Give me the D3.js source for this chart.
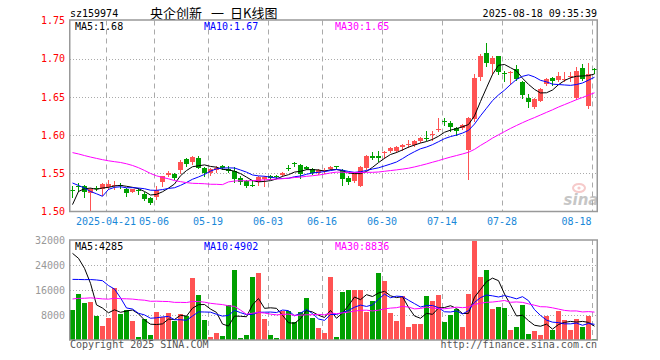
<!DOCTYPE html>
<html><head><meta charset="utf-8">
<script src="https://cdn.jsdelivr.net/npm/d3@7/dist/d3.min.js"></script>
<style>body{margin:0;background:#fff}svg{display:block}</style>
</head><body><svg id="c" width="660" height="360"></svg>
<script>
const dates = ["04-11","04-14","04-15","04-16","04-17","04-18","04-21","04-22","04-23","04-24","04-25","04-28","04-29","04-30",
"05-06","05-07","05-08","05-09","05-12","05-13","05-14","05-15","05-16","05-19","05-20","05-21","05-22","05-23","05-26","05-27","05-28","05-29","05-30",
"06-03","06-04","06-05","06-06","06-09","06-10","06-11","06-12","06-13","06-16","06-17","06-18","06-19","06-20","06-23","06-24","06-25","06-26","06-27","06-30",
"07-01","07-02","07-03","07-04","07-07","07-08","07-09","07-10","07-11","07-14","07-15","07-16","07-17","07-18","07-21","07-22","07-23","07-24","07-25","07-28","07-29","07-30","07-31",
"08-01","08-04","08-05","08-06","08-07","08-08","08-11","08-12","08-13","08-14","08-15","08-18"];
const openP = [1.528,1.534,1.534,1.524,1.531,1.530,1.532,1.533,1.535,1.529,1.526,1.528,1.523,1.5175,1.519,1.538,1.548,1.549,1.554,1.569,1.565,1.570,1.557,1.551,1.554,
1.560,1.556,1.553,1.544,1.540,1.535,1.538,1.542,1.547,1.546,1.548,1.557,1.563,1.561,1.558,1.556,1.550,1.553,1.556,1.560,1.554,1.544,1.540,1.534,1.557,1.572,1.572,1.577,1.579,1.579,1.584,1.587,1.587,1.592,1.596,1.600,1.607,
1.619,1.616,1.609,1.609,1.581,1.621,1.676,1.708,1.693,1.704,1.681,1.682,1.686,1.670,1.649,1.637,1.645,1.667,1.675,1.672,1.673,1.677,1.649,1.688,1.638,1.686];
const closeP = [1.527,1.532,1.526,1.530,1.530,1.536,1.536,1.535,1.534,1.524,1.529,1.527,1.517,1.511,1.528,1.546,1.551,1.544,1.565,1.562,1.571,1.557,1.550,1.555,1.557,
1.557,1.553,1.542,1.539,1.534,1.534,1.545,1.545,1.544,1.545,1.551,1.556,1.562,1.549,1.556,1.551,1.554,1.554,1.558,1.558,1.543,1.539,1.550,1.558,1.572,1.570,1.570,1.578,1.583,1.585,1.587,1.588,1.592,1.596,1.595,1.601,1.6085,
1.618,1.610,1.605,1.613,1.623,1.675,1.704,1.694,1.701,1.683,1.680,1.683,1.673,1.653,1.643,1.647,1.660,1.674,1.671,1.678,1.674,1.678,1.684,1.673,1.680,1.685];
const highP = [1.534,1.537,1.535,1.531,1.533,1.537,1.541,1.540,1.537,1.531,1.530,1.531,1.526,1.519,1.534,1.547,1.553,1.551,1.567,1.570,1.572,1.572,1.558,1.557,1.559,
1.561,1.559,1.558,1.546,1.541,1.541,1.546,1.547,1.548,1.548,1.552,1.561,1.565,1.562,1.559,1.557,1.556,1.557,1.559,1.560,1.555,1.546,1.551,1.559,1.574,1.578,1.579,1.579,1.585,1.586,1.588,1.594,1.594,1.598,1.605,1.605,1.6225,
1.622,1.618,1.610,1.615,1.624,1.680,1.706,1.720,1.703,1.704,1.684,1.684,1.692,1.671,1.654,1.648,1.661,1.675,1.676,1.682,1.682,1.682,1.689,1.693,1.695,1.688];
const lowP = [1.519,1.527,1.519,1.500,1.528,1.522,1.530,1.530,1.531,1.520,1.525,1.523,1.515,1.510,1.517,1.534,1.547,1.543,1.551,1.560,1.562,1.557,1.546,1.548,1.552,
1.556,1.552,1.538,1.536,1.532,1.534,1.535,1.533,1.542,1.544,1.547,1.554,1.559,1.544,1.555,1.549,1.549,1.551,1.555,1.557,1.535,1.536,1.538,1.533,1.555,1.569,1.566,1.570,1.578,1.578,1.580,1.585,1.586,1.591,1.593,1.594,1.606,
1.613,1.606,1.600,1.608,1.542,1.619,1.672,1.690,1.680,1.680,1.671,1.667,1.672,1.648,1.637,1.635,1.644,1.665,1.666,1.671,1.671,1.671,1.647,1.672,1.636,1.6807];
const volume = [9600,14720,11950,12270,7680,4480,7140,16750,8320,9600,6180,1070,6830,1600,9070,7250,8750,6180,8320,7680,19950,14400,6400,1070,2350,
1280,11200,22400,740,1600,20270,21330,6720,1600,740,9280,9280,5870,9070,13550,7140,3950,2350,20270,1070,15470,16000,16000,16000,9070,12480,21550,18880,8750,6180,14080,4270,5120,5120,14080,12480,14400,
5870,8000,9810,4270,14720,31680,20270,22400,9920,10670,10350,3200,4270,11200,1920,2990,1600,7680,3200,9280,6400,3200,6610,4270,7680,320];
// closes / volumes before the visible window (estimated from the moving-average lines)
const priorClose = [1.585,1.590,1.588,1.583,1.586,1.580,1.570,1.565,1.575,1.595,1.615,1.625,1.630,1.620,1.610,1.605,1.612,1.608,1.600,1.598,
1.564,1.560,1.575,1.560,1.569,1.446,1.508,1.526,1.538];
const priorVolume = [9000,11000,8500,12000,10000,9500,8000,13000,10500,9000,7500,11000,12000,8000,9500,10000,14000,8500,9000,10000,
15000,12500,12000,9000,6850,22670,27950,36300,42130];
const priceTicks = [1.50,1.55,1.60,1.65,1.70,1.75];
const volTicks = [8000,16000,24000,32000];
const dateTicks = ["04-21","05-06","05-19","06-03","06-16","06-30","07-14","07-28","08-18"];
const dateTickLabels = ["2025-04-21","05-06","05-19","06-03","06-16","06-30","07-14","07-28","08-18"];
const maPeriods = [5,10,30];
const priceLegend = ["1.68","1.67","1.65"];
const volLegend = ["4285","4902","8836"];
const titleParts = ["央企创新", "一", "日K线图"];
const codeText = "sz159974";
const timeText = "2025-08-18 09:35:39";

const svg = d3.select("#c");
const MONO = "'DejaVu Sans Mono', 'Liberation Mono', monospace";
const RED = "#ff5353", GREEN = "#00a000";
const maColors = ["#000000","#0000ff","#ff00ff"];
const L = 70, R = 597, PT = 20.5, PB = 211.5, VT = 240, VB = 340;
const n = dates.length;
const x = d3.scaleBand().domain(d3.range(n)).range([L - 1, R]);
const yP = d3.scaleLinear().domain([1.50, 1.75]).range([PB, PT]);
const yV = d3.scaleLinear().domain([0, 32000]).range([VB, VT]);
const cx = i => x(i) + 3.5;
const gx = i => x(i) + 1.5;

function ma(prior, vals, p) {
  const all = prior.concat(vals), off = prior.length;
  return vals.map((_, i) => d3.mean(all.slice(off + i - p + 1, off + i + 1)));
}

const defs = svg.append("defs");
defs.append("clipPath").attr("id","cp").append("rect").attr("x",L).attr("y",PT).attr("width",R-L).attr("height",PB-PT);
defs.append("clipPath").attr("id","cv").append("rect").attr("x",L).attr("y",VT).attr("width",R-L).attr("height",VB-VT);

// header
svg.append("text").attr("x", L).attr("y", 16.5).attr("font-family", MONO).attr("font-size", 10).attr("fill","#000").text(codeText);
const tt = svg.append("text").attr("y", 17.5).attr("font-family","'Noto Sans CJK SC', sans-serif").attr("font-size", 13).attr("fill","#000");
const titleX = [150, 211, 230];
titleParts.forEach((s, k) => tt.append("tspan").attr("x", titleX[k]).text(s));
svg.append("text").attr("x", R).attr("y", 16.5).attr("text-anchor","end").attr("font-family", MONO).attr("font-size", 10).attr("fill","#000").text(timeText);

// grids
const tickIdx = dateTicks.map(d => dates.indexOf(d));
function grids(top, bottom, yScale, ticks) {
  const g = svg.append("g");
  g.selectAll("line.h").data(ticks.filter(t => yScale(t) > top + 2 && yScale(t) < bottom - 2)).enter().append("line")
    .attr("x1", L).attr("x2", R).attr("y1", t => Math.round(yScale(t)) + 0.5).attr("y2", t => Math.round(yScale(t)) + 0.5)
    .attr("stroke","#aaa").attr("stroke-dasharray","1,2");
  g.selectAll("line.v").data(tickIdx).enter().append("line")
    .attr("x1", gx).attr("x2", gx).attr("y1", top).attr("y2", bottom)
    .attr("stroke","#aaa").attr("stroke-dasharray","5,4");
}
grids(PT, PB, yP, priceTicks);
grids(VT, VB, yV, volTicks);

// watermark
const wm = svg.append("g").attr("opacity", 0.55);
wm.append("ellipse").attr("cx", 579).attr("cy", 188).attr("rx", 6).attr("ry", 4).attr("fill","none").attr("stroke","#f0a0a0").attr("stroke-width",2);
wm.append("circle").attr("cx", 579).attr("cy", 188).attr("r", 1.6).attr("fill","#f0a0a0");
wm.append("text").attr("x", 581).attr("y", 205).attr("text-anchor","middle").attr("font-family","'DejaVu Sans', sans-serif")
  .attr("font-style","italic").attr("font-weight","bold").attr("font-size", 15).attr("fill","#999").text("sina");

// candles
const up = i => closeP[i] >= openP[i];
const cg = svg.append("g").attr("clip-path","url(#cp)");
const idx = d3.range(n);
cg.selectAll("line.w").data(idx).enter().append("line")
  .attr("x1", cx).attr("x2", cx)
  .attr("y1", i => Math.round(yP(highP[i]))).attr("y2", i => Math.round(yP(lowP[i])) + 1)
  .attr("stroke", i => up(i) ? RED : GREEN);
cg.selectAll("rect").data(idx).enter().append("rect")
  .attr("x", i => x(i) + 1).attr("width", 5)
  .attr("y", i => Math.round(yP(Math.max(openP[i], closeP[i]))))
  .attr("height", i => Math.max(1, Math.round(yP(Math.min(openP[i], closeP[i]))) - Math.round(yP(Math.max(openP[i], closeP[i])))))
  .attr("fill", i => up(i) ? RED : GREEN);

maPeriods.forEach((p, k) => {
  const m = ma(priorClose, closeP, p);
  cg.append("path").datum(idx).attr("fill","none").attr("stroke", maColors[k]).attr("stroke-width", 1)
    .attr("d", d3.line().x(cx).y(i => yP(m[i])));
});

// volume
const vg = svg.append("g").attr("clip-path","url(#cv)");
vg.selectAll("rect").data(idx).enter().append("rect")
  .attr("x", i => x(i) + 1).attr("width", 5)
  .attr("y", i => Math.round(yV(volume[i]))).attr("height", i => VB - Math.round(yV(volume[i])))
  .attr("fill", i => up(i) ? RED : GREEN);
maPeriods.forEach((p, k) => {
  const m = ma(priorVolume, volume, p);
  vg.append("path").datum(idx).attr("fill","none").attr("stroke", maColors[k]).attr("stroke-width", 1)
    .attr("d", d3.line().x(cx).y(i => yV(m[i])));
});

// borders
[[PT - 0.5, PB], [VT, VB]].forEach(([t, b]) => {
  svg.append("rect").attr("x", L - 0.25).attr("y", t).attr("width", R - L + 0.5).attr("height", b - t)
    .attr("fill","none").attr("stroke","#999").attr("stroke-width", 1.5);
});

// y axes
const ayP = svg.append("g").attr("transform", `translate(${L},0)`)
  .call(d3.axisLeft(yP).tickValues(priceTicks).tickFormat(d3.format(".2f")).tickSize(0).tickPadding(5));
ayP.select(".domain").remove();
ayP.selectAll("text").attr("fill","#ff0000").attr("font-family", MONO).attr("font-size", 10);
const ayV = svg.append("g").attr("transform", `translate(${L},0)`)
  .call(d3.axisLeft(yV).tickValues(volTicks).tickFormat(d3.format("d")).tickSize(0).tickPadding(5));
ayV.select(".domain").remove();
ayV.selectAll("text").attr("fill","#999").attr("font-family", MONO).attr("font-size", 10);

// x axis
const ax = svg.append("g").attr("transform", `translate(-2,${PB})`)
  .call(d3.axisBottom(x).tickValues(tickIdx).tickFormat((d, j) => dateTickLabels[j]).tickSize(0).tickPadding(6));
ax.select(".domain").remove();
ax.selectAll("text").attr("fill","#1a88d8").attr("font-family", MONO).attr("font-size", 10)
  .each(function(d) {
    const w = this.getComputedTextLength();
    if (gx(d) + w / 2 > R) d3.select(this).attr("text-anchor","end").attr("x", gx(d) - (x(d) + x.bandwidth() / 2) + 2 - 1);
  });

// legends
const legX = [75, 204, 335];
maPeriods.forEach((p, k) => {
  svg.append("text").attr("x", legX[k]).attr("y", 29.5).attr("font-family", MONO).attr("font-size", 10)
    .attr("fill", maColors[k]).text(`MA${p}:${priceLegend[k]}`);
  svg.append("text").attr("x", legX[k]).attr("y", 250).attr("font-family", MONO).attr("font-size", 10)
    .attr("fill", maColors[k]).text(`MA${p}:${volLegend[k]}`);
});

// footer
svg.append("text").attr("x", L).attr("y", 348).attr("font-family", MONO).attr("font-size", 10).attr("fill","#555").text("Copyright 2025 SINA.COM");
svg.append("text").attr("x", R).attr("y", 348).attr("text-anchor","end").attr("font-family", MONO).attr("font-size", 10).attr("fill","#555").text("http://finance.sina.com.cn");
</script></body></html>
